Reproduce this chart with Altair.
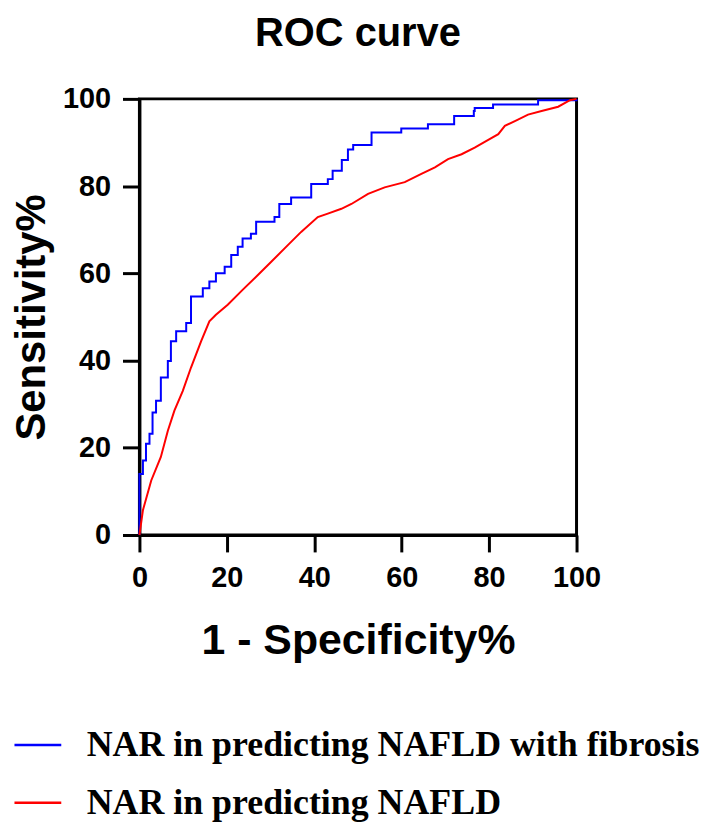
import altair as alt
import pandas as pd

blue_label = "NAR in predicting NAFLD with fibrosis"
red_label = "NAR in predicting NAFLD"

blue_x = [0, 0, 0.8, 1.5, 2.3, 3.0, 3.8, 4.9, 6.1, 6.5, 7.2, 8.4, 9.9, 10.7, 11.8, 13.7,
          14.5, 16.0, 17.5, 19.5, 21.0, 22.5, 23.6, 25.5, 26.7, 30.1, 30.9, 32.0, 34.7,
          38.5, 39.3, 41.9, 43.1, 44.2, 45.4, 46.3, 47.7, 48.9, 52.7, 53.1, 59.5, 59.9,
          65.6, 66.0, 71.4, 72.0, 75.6, 76.5, 76.7, 80.5, 80.9, 90.8, 91.2, 100]
blue_y = [0, 14.0, 17.1, 20.9, 23.2, 28.1, 30.8, 36.1, 36.1, 39.9, 44.4, 46.7, 46.7, 48.6,
          54.7, 54.7, 56.6, 58.1, 60.0, 61.5, 64.2, 66.1, 68.0, 69.1, 71.8, 71.8, 72.9,
          75.9, 77.4, 77.4, 80.5, 80.5, 81.6, 83.5, 83.5, 86.0, 88.4, 89.4, 89.4, 92.3,
          92.3, 93.2, 93.2, 94.2, 94.2, 96.1, 96.1, 97.2, 97.9, 97.9, 98.7, 98.7, 99.7, 100]

red_x = [0, 0.8, 2.7, 4.9, 6.5, 8.0, 9.9, 11.8, 14.1, 16.0, 17.5, 20.2, 23.6, 27.1, 30.1,
         33.9, 37.0, 40.8, 43.1, 46.2, 48.5, 52.3, 56.1, 60.7, 64.5, 67.6, 70.6, 73.7,
         76.7, 79.8, 82.1, 83.6, 85.9, 88.9, 92.0, 95.8, 98.5, 100]
red_y = [0, 5.7, 12.5, 17.9, 23.9, 28.5, 33.0, 38.4, 44.4, 49.0, 50.5, 52.8, 56.2, 59.6,
         62.6, 66.4, 69.5, 72.9, 73.7, 74.8, 75.9, 78.2, 79.7, 80.9, 82.8, 84.3, 86.2,
         87.3, 88.8, 90.6, 91.9, 93.8, 94.9, 96.4, 97.2, 98.2, 99.7, 100]

tick_values = [0, 20, 40, 60, 80, 100]

df_b = pd.DataFrame({"x": blue_x, "y": blue_y, "series": blue_label, "i": range(len(blue_x))})
df_r = pd.DataFrame({"x": red_x, "y": red_y, "series": red_label, "i": range(len(red_x))})

color = alt.Color(
    "series:N",
    scale=alt.Scale(domain=[blue_label, red_label], range=["#0000ff", "#ff0000"]),
    legend=alt.Legend(
        title=None, orient="none", legendX=-127, legendY=624, direction="vertical",
        symbolType="stroke", symbolSize=2209, symbolStrokeWidth=2.5,
        labelFont="Liberation Serif", labelFontSize=36, labelFontWeight="bold",
        labelColor="black", labelOffset=24, rowPadding=15, labelLimit=800, padding=0,
    ),
)

x = alt.X("x:Q", scale=alt.Scale(domain=[0, 100], nice=False),
          axis=alt.Axis(values=tick_values, title="1 - Specificity%", titlePadding=27,
                        titleFontSize=43))
y = alt.Y("y:Q", scale=alt.Scale(domain=[0, 100], nice=False),
          axis=alt.Axis(values=tick_values, title="Sensitivity%", titlePadding=9,
                        titleFontSize=42))

blue = alt.Chart(df_b).mark_line(interpolate="step-after", strokeWidth=2).encode(
    x=x, y=y, color=color, order="i:Q")
red = alt.Chart(df_r).mark_line(strokeWidth=2).encode(
    x=x, y=y, color=color, order="i:Q")

chart = alt.layer(blue, red).properties(
    width=439, height=438,
    title=alt.TitleParams("ROC curve", font="Liberation Sans", fontSize=40,
                          fontWeight="bold", anchor="middle", color="black", offset=31),
    autosize=alt.AutoSizeParams(type="none"),
    padding={"left": 132, "top": 89.5, "right": 125, "bottom": 290},
).configure_view(
    stroke="black", strokeWidth=3
).configure_axis(
    grid=False, domainColor="black", domainWidth=3, tickColor="black", tickWidth=3,
    tickSize=17, labelFont="Liberation Sans", labelFontSize=29, labelFontWeight="bold",
    labelColor="black", labelPadding=12, labelFlush=False, labelOverlap=False,
    titleFont="Liberation Sans", titleFontWeight="bold", titleColor="black",
)

chart.save("out.html", embed_options={"renderer": "svg", "actions": False})
